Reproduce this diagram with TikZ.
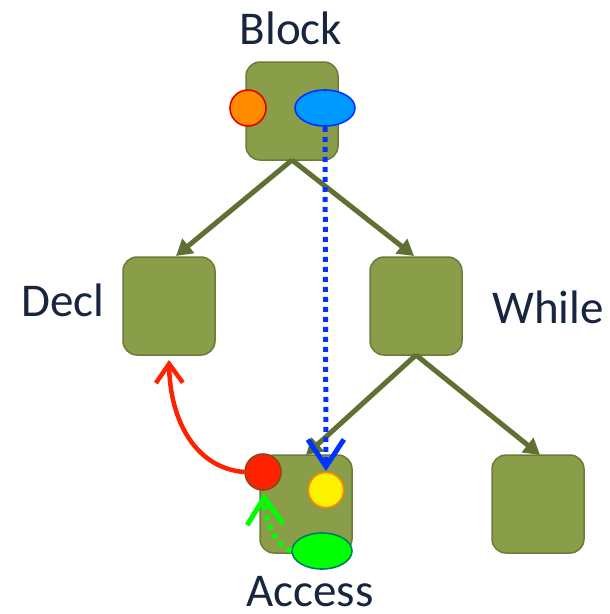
\documentclass[tikz,border=0pt]{standalone}
\usepackage{fontspec}
\setmainfont{Carlito}
\usetikzlibrary{arrows.meta,shapes.geometric}
\definecolor{olivefill}{HTML}{8A9E4A}
\definecolor{olivedraw}{HTML}{6A7C38}
\definecolor{olivearrow}{HTML}{5F7032}
\definecolor{labelink}{HTML}{17253F}
\definecolor{depblue}{RGB}{0,51,255}
\definecolor{depred}{RGB}{255,34,0}
\definecolor{depgreen}{RGB}{0,255,0}
\tikzset{
  astnode/.style={draw=olivedraw, fill=olivefill, line width=1.5pt, rounded corners=14pt,
    minimum width=92pt, minimum height=98pt, inner sep=0pt},
  treeedge/.style={draw=olivearrow, line width=5pt, -{Triangle[length=16pt,width=18pt]}},
  nodelabel/.style={text=labelink, font=\fontsize{47}{52}\selectfont, inner sep=0pt},
  attr/.style={line width=1.6pt, inner sep=0pt},
  bigbarb/.style={-{Straight Barb[length=27pt,width=36pt,line width=5pt]}},
  smallbarb/.style={-{Straight Barb[length=19pt,width=27pt,line width=4.5pt]}}
}
\begin{document}
\begin{tikzpicture}[x=1pt,y=-1pt]
\useasboundingbox (0,0) rectangle (610,614);

% tree nodes
\node[astnode] (block) at (292,111) {};
\node[astnode] (decl) at (169,306) {};
\node[astnode] (while) at (416,306) {};
\node[astnode] (access) at (306,504) {};
\node[astnode] (other) at (538,504) {};

% labels
\node[nodelabel] (lblock) at (291,28) {Block};
\node[nodelabel] (ldecl) at (63,300) {Decl};
\node[nodelabel] (lwhile) at (548,307) {While};
\node[nodelabel] (laccess) at (310,592) {Access};

% tree edges
\coordinate (bb) at (292,160);
\coordinate (wb) at (416,355);
\draw[treeedge] (bb) -- (176,256);
\draw[treeedge] (bb) -- (414,256);
\draw[treeedge] (wb) -- (306,455);
\draw[treeedge] (wb) -- (540,455);

% attributes
\node[attr, circle, draw=red!90!black, fill={rgb,255:red,255;green,140;blue,0}, minimum size=36pt] (orange) at (248,108) {};
\node[attr, ellipse, draw=depblue, fill={rgb,255:red,0;green,153;blue,255}, minimum width=60pt, minimum height=36pt] (blue) at (325,108) {};
\node[attr, circle, draw={rgb,255:red,140;green,70;blue,20}, fill=depred, minimum size=36pt] (red) at (263,472) {};
\node[attr, circle, draw={rgb,255:red,255;green,140;blue,0}, fill=yellow, minimum size=35pt] (yellow) at (326,490) {};
\node[attr, ellipse, draw={rgb,255:red,0;green,128;blue,96}, fill=depgreen, minimum width=60pt, minimum height=36pt] (green) at (322,551) {};

% dependency arrows
\draw[bigbarb, draw=depblue, line width=5pt, dash pattern=on 5pt off 5pt]
  (blue.south) -- (326,471);
\draw[smallbarb, draw=depred, line width=4.5pt]
  (red.west) .. controls (195,468) and (170,420) .. (169,360);
\draw[bigbarb, draw=depgreen, line width=5pt, dash pattern=on 5pt off 5pt]
  (green.west) .. controls (275,545) and (265,520) .. (264,493);
\end{tikzpicture}
\end{document}
